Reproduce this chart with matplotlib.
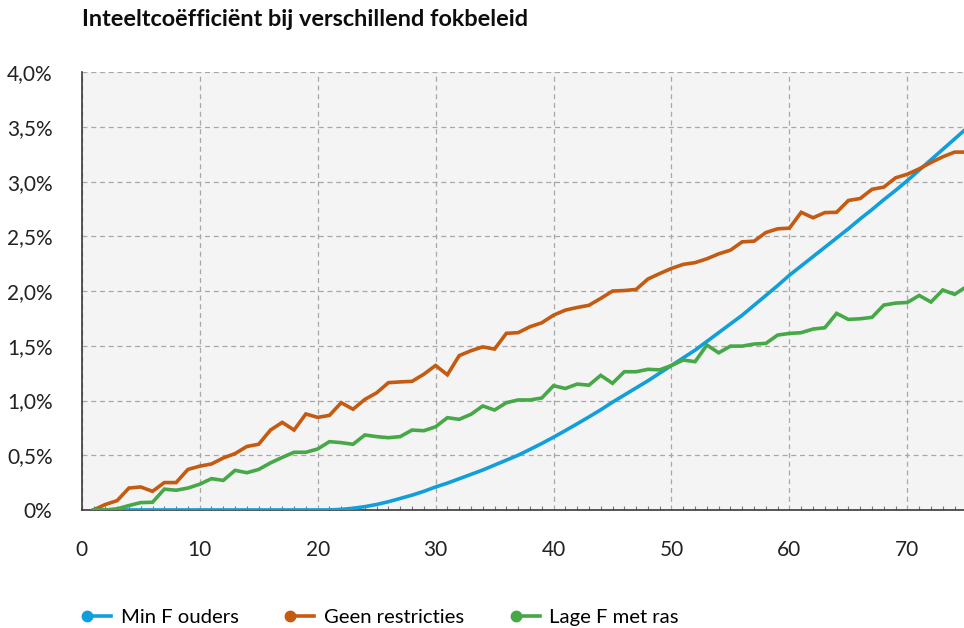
import matplotlib
matplotlib.use("Agg")
import matplotlib.pyplot as plt
from matplotlib.lines import Line2D
from matplotlib.legend_handler import HandlerBase
from matplotlib.ticker import MultipleLocator, FuncFormatter

plt.rcParams["font.family"] = ["Lato", "DejaVu Sans"]

# generaties 1..75
generaties = list(range(1, 76))

min_f_ouders = [
    0, 0, 0, 0, 0, 0, 0, 0, 0, 0,
    0, 0, 0, 0, 0, 0, 0, 0, 0, 0,
    0, 0.005, 0.015, 0.03, 0.05, 0.075, 0.105, 0.135, 0.17, 0.21,
    0.245, 0.285, 0.325, 0.365, 0.41, 0.455, 0.50, 0.553, 0.607, 0.665,
    0.725, 0.787, 0.85, 0.915, 0.985, 1.05, 1.115, 1.18, 1.25, 1.32,
    1.39, 1.46, 1.54, 1.62, 1.70, 1.78, 1.87, 1.96, 2.05, 2.145,
    2.23, 2.315, 2.40, 2.485, 2.57, 2.66, 2.745, 2.835, 2.92, 3.01,
    3.105, 3.20, 3.295, 3.39, 3.485,
]

geen_restricties = [
    0, 0.05, 0.085, 0.20, 0.21, 0.17, 0.25, 0.25, 0.37, 0.40,
    0.42, 0.475, 0.515, 0.58, 0.60, 0.73, 0.80, 0.73, 0.877, 0.846,
    0.864, 0.98, 0.92, 1.01, 1.07, 1.163, 1.17, 1.175, 1.24, 1.32,
    1.235, 1.41, 1.455, 1.49, 1.47, 1.614, 1.62, 1.674, 1.71, 1.78,
    1.826, 1.85, 1.87, 1.933, 2.0, 2.005, 2.015, 2.11, 2.16, 2.207,
    2.244, 2.26, 2.295, 2.34, 2.374, 2.45, 2.456, 2.535, 2.569, 2.575,
    2.72, 2.67, 2.717, 2.72, 2.828, 2.846, 2.93, 2.95, 3.035, 3.068,
    3.117, 3.175, 3.227, 3.27, 3.27,
]

lage_f_met_ras = [
    0, 0, 0.01, 0.04, 0.067, 0.07, 0.19, 0.18, 0.20, 0.235,
    0.286, 0.27, 0.362, 0.34, 0.37, 0.43, 0.48, 0.527, 0.527, 0.557,
    0.624, 0.615, 0.60, 0.685, 0.67, 0.66, 0.67, 0.73, 0.724, 0.76,
    0.843, 0.828, 0.874, 0.95, 0.913, 0.98, 1.005, 1.005, 1.023, 1.135,
    1.11, 1.15, 1.14, 1.23, 1.157, 1.263, 1.263, 1.285, 1.28, 1.32,
    1.37, 1.355, 1.507, 1.436, 1.497, 1.497, 1.516, 1.522, 1.598, 1.613,
    1.62, 1.653, 1.665, 1.796, 1.741, 1.747, 1.76, 1.872, 1.89, 1.896,
    1.96, 1.90, 2.01, 1.97, 2.04,
]

reeksen = ["Min F ouders", "Geen restricties", "Lage F met ras"]
kleuren = ["#119fdc", "#c55a11", "#46a846"]


class DotLeftHandler(HandlerBase):
    # Excel-achtige legenda: lijntje met een bolletje aan de linkerkant
    def create_artists(self, legend, orig_handle, xdescent, ydescent,
                       width, height, fontsize, trans):
        y = height / 2 - ydescent
        x0 = -xdescent
        line = Line2D([x0, x0 + width], [y, y], color=orig_handle.get_color(),
                      lw=orig_handle.get_linewidth(), transform=trans)
        dot = Line2D([x0], [y], color=orig_handle.get_color(), marker="o",
                     markersize=7.5, linestyle="None", transform=trans)
        return [line, dot]


fig = plt.figure(figsize=(9.64, 6.28), dpi=100)
ax = fig.add_axes([0.0848, 0.188, 0.9152, 0.697])
ax.set_facecolor("#f4f4f4")

for data, kleur in zip([min_f_ouders, geen_restricties, lage_f_met_ras], kleuren):
    ax.plot(generaties, data, color=kleur, lw=2.6, solid_joinstyle="miter", zorder=3)

ax.set_xlim(0, 74.8)
ax.set_ylim(0, 4.0)
ax.xaxis.set_major_locator(MultipleLocator(10))
ax.xaxis.set_minor_locator(MultipleLocator(1))
ax.yaxis.set_major_locator(MultipleLocator(0.5))
ax.yaxis.set_major_formatter(FuncFormatter(
    lambda v, p: "0%" if v == 0 else f"{v:.1f}%".replace(".", ",")))

ax.grid(True, which="major", color="#a8a8a8", lw=0.9, linestyle=(0, (4, 3)))
ax.set_axisbelow(True)

for s in ["top", "right"]:
    ax.spines[s].set_visible(False)
for s in ["left", "bottom"]:
    ax.spines[s].set_color("#3a3a3a")
    ax.spines[s].set_linewidth(1.2)

ax.tick_params(axis="x", which="major", length=0, pad=22, labelsize=15, labelcolor="#222222")
ax.tick_params(axis="x", which="minor", direction="in", length=3, color="#777777", width=0.8)
ax.tick_params(axis="y", length=0, pad=21, labelsize=15, labelcolor="#222222")

fig.text(0.085, 0.985, "Inteeltcoëfficiënt bij verschillend fokbeleid",
         fontsize=16.9, fontweight="bold", va="top", ha="left", color="#0d0d0d")

handles = [Line2D([], [], color=k, lw=2.6) for k in kleuren]
fig.legend(handles, reeksen, loc="center left", bbox_to_anchor=(0.0714, 0.0175),
           ncol=3, frameon=False, fontsize=14.6,
           handler_map={Line2D: DotLeftHandler()},
           handlelength=1.18, handletextpad=0.47, columnspacing=2.56)

fig.savefig("out.png", dpi=100)
